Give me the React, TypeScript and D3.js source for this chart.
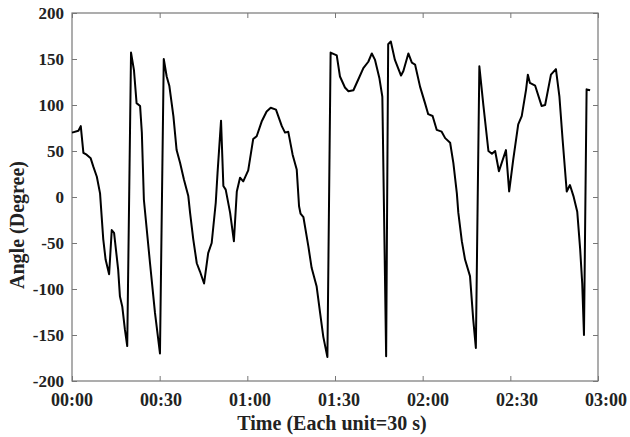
import { useRef, useEffect } from "react";
import { select, scaleLinear, line, axisBottom, axisTop, axisLeft, axisRight } from "d3";

// time in seconds, angle in degrees
const timeSec = [
  0, 2.2, 3.0, 3.9, 5.0, 6.4, 7.3, 8.5, 9.6, 10.7, 11.5, 12.7, 13.6, 14.4, 15.8, 16.4, 17.2, 18.1, 18.9,
  20.2, 21.2, 22.1, 23.3, 23.9, 24.6, 26.7, 28.4, 30.1, 31.4, 32.4, 33.3, 34.7, 35.8, 37.0, 38.3, 39.8,
  40.4, 41.5, 42.7, 43.8, 45.2, 46.6, 47.8, 49.2, 49.8, 51.0, 51.8, 52.6, 54.1, 55.4, 56.4, 57.5, 58.6,
  60.3, 62.0, 63.2, 64.9, 66.6, 68.0, 69.8, 71.8, 72.9, 74.0, 75.5, 76.9, 77.7, 78.2, 79.2, 80.9, 82.0,
  83.7, 84.9, 86.0, 87.4, 88.5, 90.6, 91.7, 93.4, 94.6, 96.3, 98.0, 99.7, 101.4, 102.6, 103.7, 105.2,
  106.2, 107.5, 108.2, 109.1, 110.5, 112.6, 113.4, 115.1, 116.3, 117.4, 119.1, 120.8, 121.9, 123.4,
  124.8, 126.5, 127.7, 129.4, 130.5, 131.7, 132.2, 133.4, 134.5, 136.2, 137.3, 138.2, 139.4, 140.8,
  142.5, 143.7, 144.8, 146.1, 148.5, 149.6, 151.0, 152.7, 153.9, 155.4, 156.0, 156.7, 158.5, 160.7,
  161.9, 163.9, 165.6, 166.8, 167.9, 169.3, 170.4, 171.6, 172.9, 173.9, 174.6, 175.2, 176.1, 177.3,
];
const angleDeg = [
  70, 72, 77, 48, 46, 42, 33, 22, 4, -46, -68, -84, -36, -39, -79, -108, -119, -144, -162,
  157, 138, 102, 99, 70, -3, -72, -126, -170, 150, 131, 121, 88, 51, 37, 19, 1,
  -17, -46, -72, -81, -94, -61, -50, -6, 26, 83, 12, 8, -17, -48, 6, 21, 17,
  29, 63, 66, 82, 93, 97, 95, 77, 70, 71, 46, 30, -10, -18, -22, -54, -77,
  -97, -126, -152, -174, 157, 154, 131, 119, 115, 116, 128, 140, 147, 156, 149, 129,
  109, -173, 166, 169, 149, 132, 137, 156, 146, 144, 120, 102, 90, 88,
  73, 71, 64, 59, 37, 4, -17, -48, -68, -86, -133, -164, 142, 99,
  50, 47, 50, 28, 51, 6, 41, 79, 88, 117, 133, 124, 121, 99,
  100, 133, 139, 109, 62, 6, 13, 1, -16, -57, -94, -150, 117, 116,
];
const xTicks = [0, 30, 60, 90, 120, 150, 180];
const yTicks = [-200, -150, -100, -50, 0, 50, 100, 150, 200];

const width = 630;
const height = 437;
const left = 72;
const right = 598;
const top = 13;
const bottom = 381;
const font = "'Liberation Serif', 'Times New Roman', serif";

const fmt = (s: number) => {
  const m = Math.floor(s / 60);
  const r = s % 60;
  return `${String(m).padStart(2, "0")}:${String(r).padStart(2, "0")}`;
};

function App() {
  const svgRef = useRef<SVGSVGElement>(null);
  useEffect(() => {
    const svg = select(svgRef.current);
    svg.selectAll("*").remove();

    const x = scaleLinear().domain([0, 180]).range([left, right]);
    const y = scaleLinear().domain([-200, 200]).range([bottom, top]);

    const tickStyle = (g: any) => {
      g.select(".domain").remove();
      g.selectAll(".tick line").attr("stroke", "#777").attr("stroke-width", 1);
      g.selectAll(".tick text").remove();
    };

    // inward ticks on all four sides
    svg.append("g").attr("transform", `translate(0,${bottom})`)
      .call(axisBottom(x).tickValues(xTicks).tickSize(-5)).call(tickStyle);
    svg.append("g").attr("transform", `translate(0,${top})`)
      .call(axisTop(x).tickValues(xTicks).tickSize(-5)).call(tickStyle);
    svg.append("g").attr("transform", `translate(${left},0)`)
      .call(axisLeft(y).tickValues(yTicks).tickSize(-5)).call(tickStyle);
    svg.append("g").attr("transform", `translate(${right},0)`)
      .call(axisRight(y).tickValues(yTicks).tickSize(-5)).call(tickStyle);

    svg.append("rect")
      .attr("x", left).attr("y", top)
      .attr("width", right - left).attr("height", bottom - top)
      .attr("fill", "none").attr("stroke", "#777").attr("stroke-width", 1.2);

    // tick labels
    svg.append("g").selectAll("text").data(xTicks).join("text")
      .attr("x", (d) => x(d) + (d / 180) * 8)
      .attr("y", 406)
      .attr("text-anchor", "middle")
      .attr("font-family", font).attr("font-weight", "bold").attr("font-size", 18)
      .attr("fill", "#222")
      .text((d) => fmt(d));

    svg.append("g").selectAll("text").data(yTicks).join("text")
      .attr("x", 64)
      .attr("y", (d) => y(d))
      .attr("dy", "0.35em")
      .attr("text-anchor", "end")
      .attr("font-family", font).attr("font-weight", "bold").attr("font-size", 17)
      .attr("fill", "#222")
      .text((d) => String(d));

    // axis titles
    svg.append("text")
      .attr("x", 332).attr("y", 430)
      .attr("text-anchor", "middle")
      .attr("font-family", font).attr("font-weight", "bold").attr("font-size", 20)
      .attr("fill", "#222")
      .text("Time (Each unit=30 s)");

    svg.append("text")
      .attr("transform", "translate(24,225) rotate(-90)")
      .attr("text-anchor", "middle")
      .attr("font-family", font).attr("font-weight", "bold").attr("font-size", 20)
      .attr("fill", "#222")
      .text("Angle (Degree)");

    const pts = timeSec.map((t, i) => [t, angleDeg[i]] as [number, number]);
    const path = line<[number, number]>().x((d) => x(d[0])).y((d) => y(d[1]));
    svg.append("path")
      .attr("d", path(pts))
      .attr("fill", "none")
      .attr("stroke", "#000")
      .attr("stroke-width", 2)
      .attr("stroke-linejoin", "round");
  }, []);

  return (
    <svg
      ref={svgRef}
      width={width}
      height={height}
      style={{ position: "absolute", left: 0, top: 0, background: "#fff" }}
    />
  );
}

export default App;
